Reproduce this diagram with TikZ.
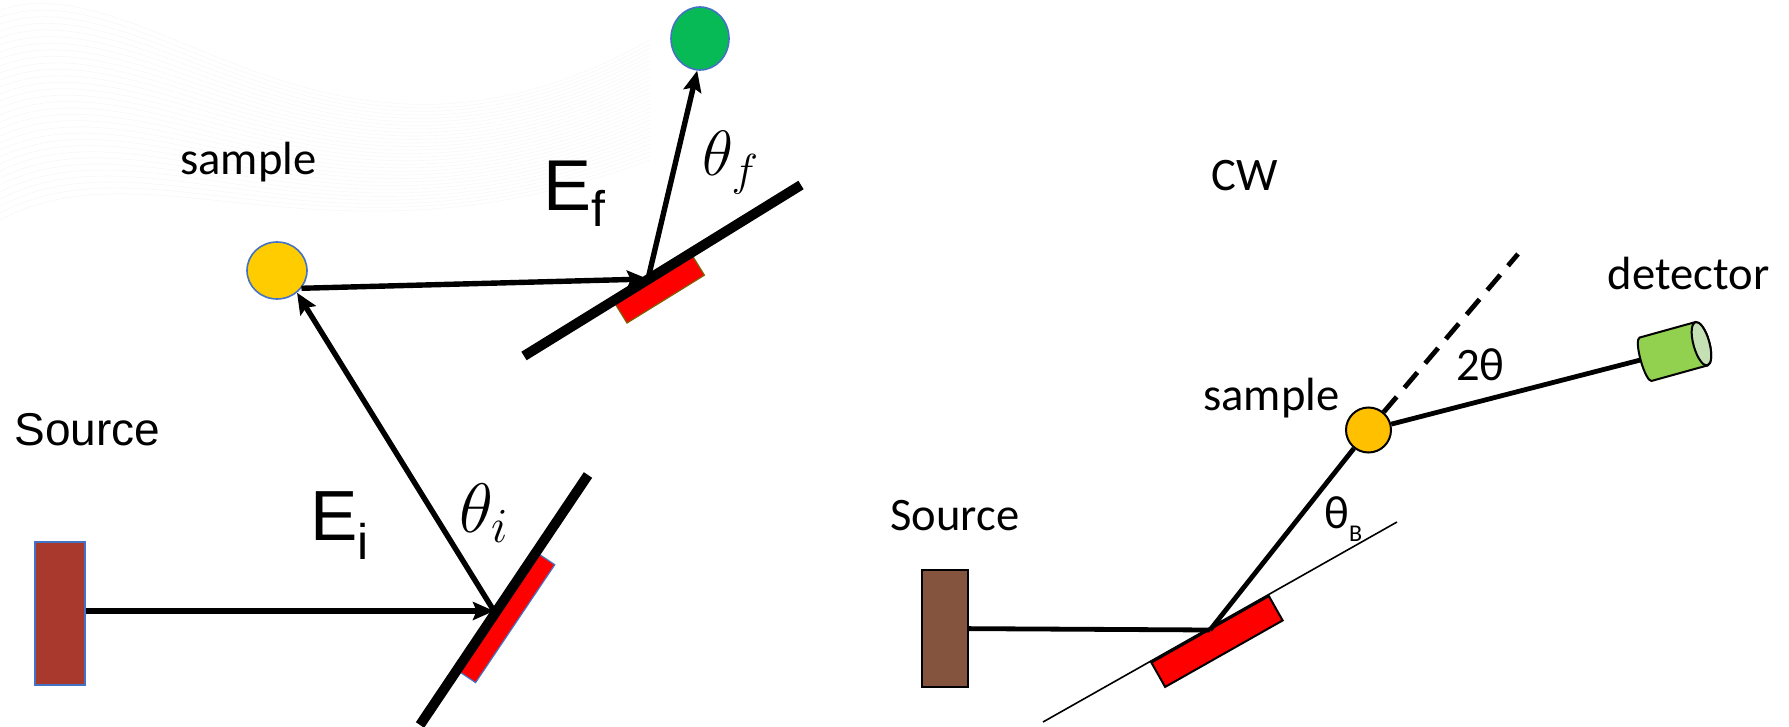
\RequirePackage{fix-cm}
\documentclass[tikz,border=0pt]{standalone}
\usepackage{fontspec}
\newfontfamily\calib{Carlito}
\newfontfamily\arialf{Liberation Sans}
\usetikzlibrary{arrows.meta,shapes.geometric}
\definecolor{srcA}{RGB}{169,57,44}
\definecolor{srcB}{RGB}{132,84,62}
\definecolor{olblue}{RGB}{68,114,196}
\definecolor{sampY}{RGB}{255,204,0}
\definecolor{sampYY}{RGB}{255,192,0}
\definecolor{grn}{RGB}{8,186,85}
\definecolor{detG}{RGB}{146,208,80}
\definecolor{detL}{RGB}{197,224,180}
\definecolor{olivec}{RGB}{128,96,0}
\begin{document}
\begin{tikzpicture}[x=0.5pt,y=-0.5pt,
  beam/.style={line width=2.4pt},
  arr/.style={line width=2.7pt,-{Stealth[length=10.5pt,width=9pt,inset=1.8pt]}},
  mirror/.style={line width=5pt},
  lbl/.style={inner sep=0pt,anchor=base},
  cl/.style={lbl,font=\calib\fontsize{23.3}{28}\selectfont},
  al/.style={lbl,font=\arialf\fontsize{23}{28}\selectfont},
  bg/.style={black!3,line width=0.3pt},
]
\useasboundingbox (0,0) rectangle (1789,727);
% faint background texture
\foreach \k in {0,...,30} {
  \draw[bg] (0,{10+7*\k}) .. controls (150,{-40+6*\k}) and (330,{220+2*\k}) .. (650,{40+4*\k});
}
% ---------------- left diagram ----------------
\node[draw=olblue,line width=0.8pt,fill=srcA,minimum width=25pt,minimum height=71.5pt,inner sep=0] (srcL) at (60,613.5) {};
\coordinate (m1a) at (420,725);
\coordinate (m1b) at (588,475);
\node[draw=olblue,line width=0.6pt,fill=red,minimum width=71pt,minimum height=9.25pt,inner sep=0,rotate=56.1] (r1) at (507.5,618.5) {};
\draw[mirror] (m1a) -- (m1b);
\coordinate (M1) at (494,611);
\node[ellipse,draw=olblue,line width=0.8pt,fill=sampY,minimum width=30pt,minimum height=28.5pt,inner sep=0] (sL) at (277,270.5) {};
\draw[arr] (srcL.east |- M1) -- (M1);
\draw[arr] (M1) -- (sL.-48);
\coordinate (m2a) at (524,356);
\coordinate (m2b) at (801,185);
\node[draw=olivec,line width=0.6pt,fill=red,minimum width=45.5pt,minimum height=12pt,inner sep=0,rotate=31.7] (r2) at (659.4,288.9) {};
\draw[mirror] (m2a) -- (m2b);
\coordinate (M2) at (648,279);
\draw[arr] (sL.-36) -- (M2);
\node[ellipse,draw=olblue,line width=0.8pt,fill=grn,minimum width=29pt,minimum height=31.5pt,inner sep=0] (gc) at (700,38.5) {};
\draw[arr] (M2) -- (gc.-95);
\node[cl] (lsample) at (248.5,175) {sample};
\node[al] (lsource) at (87.5,445) {Source};
\node[lbl,anchor=base west,font=\arialf\fontsize{35.5}{40}\selectfont] (Ei) at (310,540) {E\raisebox{-9.5pt}{\fontsize{25}{28}\selectfont i}};
\node[lbl,anchor=base west,font=\arialf\fontsize{36}{40}\selectfont] (Ef) at (543,211) {E\raisebox{-8pt}{\fontsize{25}{28}\selectfont f}};
\node[lbl,anchor=base west,font=\fontsize{35}{40}\selectfont] (thi) at (459,532) {$\theta_i$};
\node[lbl,anchor=base west,font=\fontsize{32}{36}\selectfont] (thf) at (702,176) {$\theta_f$};
% ---------------- right diagram ----------------
\node[draw=black,line width=1pt,fill=srcB,minimum width=23pt,minimum height=58.5pt,inner sep=0] (srcR) at (945,628.5) {};
\coordinate (pl1) at (1043,722);
\coordinate (pl2) at (1397,522);
\draw[line width=0.8pt] (pl1) -- (pl2);
\node[draw=black,line width=1pt,fill=red,minimum width=67.5pt,minimum height=14pt,inner sep=0,rotate=29.5] (rR) at (1217,641.5) {};
\coordinate (MR) at (1210,630);
\node[circle,draw=black,line width=1pt,fill=sampYY,minimum size=22.5pt,inner sep=0] (sR) at (1368.5,430) {};
\draw[beam] (srcR) -- (MR);
\draw[beam] (MR) -- (sR);
\coordinate (dE) at (1518,254);
\draw[beam,dash pattern=on 10pt off 6pt] (sR) -- (dE);
% detector (cylinder)
\node[minimum width=29pt,minimum height=22.5pt,inner sep=0,rotate=15.5] (det) at (1673.5,351.5) {};
\draw[beam] (sR) -- (det);
\begin{scope}[shift={(det.center)},rotate=15.5,line width=1pt]
  \draw[fill=detG] (-29,-22.5) -- (29,-22.5)
     arc[start angle=-90,end angle=90,x radius=8,y radius=22.5]
     -- (-29,22.5)
     arc[start angle=90,end angle=270,x radius=5,y radius=22.5] -- cycle;
  \draw[fill=detL] (29,0) ellipse[x radius=8,y radius=22.5];
\end{scope}
\node[cl] (cw) at (1244.5,191) {CW};
\node[cl] (rsource) at (955,530) {Source};
\node[cl] (rsample) at (1271.5,410) {sample};
\node[cl] (rdet) at (1688.5,290) {detector};
\node[cl] (twoth) at (1480.5,380) {2θ};
\node[lbl,anchor=base west,font=\calib\fontsize{23.3}{28}\selectfont] (thB) at (1324,528) {θ\raisebox{-6.5pt}{\fontsize{12}{14}\selectfont B}};
\end{tikzpicture}
\end{document}
